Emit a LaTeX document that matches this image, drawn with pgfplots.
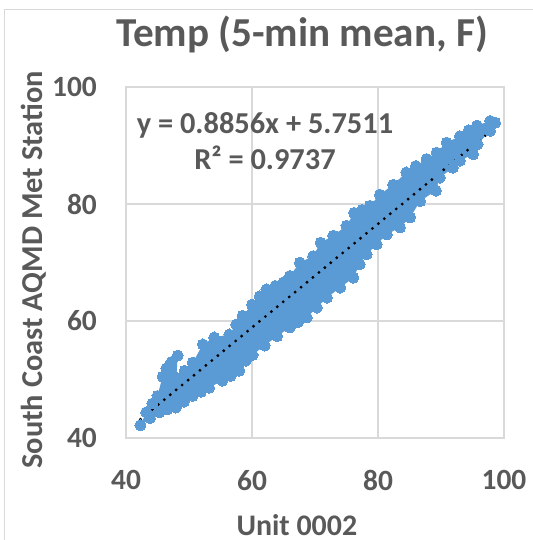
\documentclass[border=0pt]{standalone}
\usepackage{pgfplots}
\pgfplotsset{compat=1.18}
\usepackage{pgfplotstable}
\usepackage{fontspec}
\setmainfont{Carlito}
\definecolor{excelblue}{RGB}{91,155,213}
\definecolor{txtgray}{RGB}{89,89,89}
\definecolor{gridgray}{RGB}{217,217,217}
\pgfplotstableread{
x y
42.3 42.2
43.2 44.4
44.2 45.9
45.0 47.2
45.8 50.5
46.4 51.9
47.2 53.0
48.2 54.1
48.0 50.3
49.3 51.5
50.6 52.9
52.2 56.0
54.0 57.2
56.4 57.7
57.5 59.4
58.5 60.9
60.0 62.8
61.2 64.2
62.3 65.4
63.7 66.0
65.0 66.6
66.0 67.7
67.6 70.0
69.7 71.1
70.9 73.4
72.9 74.6
75.0 76.3
76.2 78.5
77.5 79.0
78.7 79.7
80.3 81.6
82.4 83.3
84.5 85.4
86.0 86.5
87.7 87.7
89.3 88.8
90.9 90.5
93.0 91.6
94.4 92.6
95.7 93.4
97.8 94.2
98.6 93.9
97.8 92.5
95.8 90.2
95.1 88.5
93.0 87.4
91.9 86.2
89.8 84.5
89.2 82.3
86.7 80.5
85.1 77.7
83.5 76.0
81.4 74.8
79.8 73.1
78.2 71.4
77.1 69.7
76.1 67.4
74.0 65.7
71.9 64.0
70.3 62.3
68.7 60.6
67.3 59.8
66.0 58.9
64.0 57.4
62.0 55.8
60.1 54.2
59.0 53.2
58.0 51.5
56.6 50.6
55.3 49.8
53.2 48.6
51.9 47.9
50.6 47.2
49.2 46.2
47.9 45.2
46.6 44.9
45.3 44.4
43.8 43.4
}\band
\begin{document}
\begin{tikzpicture}
\path[use as bounding box] (-126bp,-102bp) rectangle (407bp,438bp);
\draw[gridgray, line width=1bp] (-121bp,-102bp) -- (-121bp,428bp) -- (407bp,428bp);
\begin{axis}[
  at={(0,0)}, anchor=south west,
  scale only axis, width=378bp, height=351bp,
  xmin=40, xmax=100, ymin=40, ymax=100,
  xtick={40,60,80,100}, ytick={40,60,80,100},
  grid=major,
  major grid style={gridgray, line width=1.2bp},
  axis line style={gridgray, line width=1.2bp},
  major tick length=0pt,
  /pgf/number format/assume math mode=true,
  tick label style={font=\fontsize{29.5}{32}\selectfont\bfseries, text=txtgray, inner sep=0pt},
  xticklabel style={anchor=north, yshift=-32bp},
  yticklabel style={anchor=east, xshift=-29bp},
  title={Temp (5-min mean, F)},
  title style={at={(axis description cs:0.466,1.097)}, anchor=base, font=\fontsize{41.3}{46}\selectfont\bfseries, text=txtgray, inner sep=0pt},
  xlabel={Unit 0002},
  xlabel style={at={(axis description cs:0.452,-0.279)}, anchor=base, font=\fontsize{30}{34}\selectfont\bfseries, text=txtgray, inner sep=0pt},
  ylabel={South Coast AQMD Met Station},
  ylabel style={at={(axis description cs:-0.22,0.479)}, anchor=base, font=\fontsize{30.5}{34}\selectfont\bfseries, text=txtgray, inner sep=0pt},
]
\addplot[fill=excelblue, draw=none, forget plot] table {\band};
\addplot[only marks, mark=*, mark size=5.5bp, mark options={fill=excelblue, draw=excelblue, line width=0pt}] table {\band};
\addplot[black, line width=3.2bp, dash pattern=on 0pt off 7.7bp, line cap=round] coordinates {(42.3,43.21) (98.3,92.81)};
\node[align=center, font=\fontsize{30.5}{36}\selectfont\bfseries, text=txtgray, inner sep=0pt] at (axis cs:62.06,90.8) {y = 0.8856x + 5.7511\\R² = 0.9737};
\end{axis}
\end{tikzpicture}
\end{document}
